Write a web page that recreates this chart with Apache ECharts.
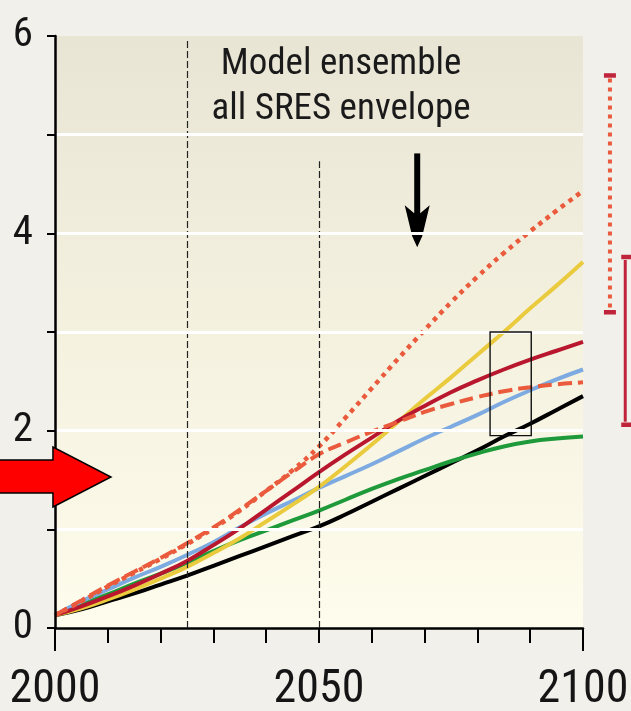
<!DOCTYPE html>
<html><head><meta charset="utf-8">
<script src="https://cdn.jsdelivr.net/npm/echarts@6/dist/echarts.min.js"></script>
<style>html,body{margin:0;padding:0;background:#F1F0EB;}#c{width:631px;height:711px;}</style>
</head><body><div id="c"></div>
<script>
// ---- data ----
const years = [2000,2005,2010,2015,2020,2025,2030,2035,2040,2045,2050,2055,2060,2065,2070,2075,2080,2085,2090,2095,2100];
const dottedRed = [0.13,0.27,0.42,0.56,0.70,0.85,1.01,1.19,1.39,1.60,1.84,2.13,2.43,2.73,3.02,3.30,3.56,3.80,4.02,4.23,4.43];
const dashedRed = [0.13,0.28,0.43,0.57,0.71,0.86,1.02,1.20,1.39,1.58,1.76,1.88,1.99,2.09,2.19,2.27,2.34,2.40,2.44,2.47,2.49];
const yellow    = [0.13,0.20,0.29,0.39,0.50,0.62,0.76,0.91,1.08,1.25,1.43,1.64,1.86,2.09,2.32,2.54,2.77,3.00,3.24,3.47,3.71];
const darkRed   = [0.13,0.22,0.32,0.43,0.55,0.68,0.84,1.01,1.20,1.39,1.58,1.76,1.93,2.10,2.25,2.39,2.51,2.62,2.72,2.81,2.90];
const blue      = [0.13,0.27,0.39,0.51,0.62,0.74,0.87,1.02,1.16,1.29,1.42,1.54,1.66,1.79,1.92,2.04,2.16,2.29,2.41,2.52,2.62];
const green     = [0.13,0.24,0.34,0.45,0.55,0.66,0.78,0.89,0.99,1.09,1.19,1.30,1.41,1.51,1.60,1.69,1.77,1.84,1.89,1.92,1.94];
const black     = [0.13,0.19,0.27,0.35,0.44,0.53,0.63,0.73,0.83,0.93,1.03,1.15,1.28,1.41,1.54,1.67,1.80,1.94,2.07,2.21,2.35];
const xTickLabels = ['2000','2050','2100'];
const yTickLabels = ['0','2','4','6'];
const annotationLines = ['Model ensemble','all SRES envelope'];
const verticalLineYears = [2025, 2050];
const verticalLineTops  = [5.96, 4.73];
const boxYears = [2082.4, 2090.2];
const boxValues = [1.95, 3.0];
const rangeYears = [2105.1, 2108.0];
const rangeLow  = [3.2, 2.06];
const rangeHigh = [5.6, 3.76];
const bigArrowTip = [2010.6, 1.53];
const downArrowTip = [2068.6, 3.86];
const downArrowTop = 4.81;

// ---- font choice: narrow face if installed, else Liberation Sans ----
function fontAvailable(f){
  const c = document.createElement('canvas').getContext('2d');
  const s = '2000 Model ensemble wmWMil';
  let r = false;
  ['monospace','serif'].forEach(base=>{
    c.font = '40px ' + base; const a = c.measureText(s).width;
    c.font = "40px '" + f + "', " + base; const b = c.measureText(s).width;
    if (Math.abs(a-b) > 0.5) r = true;
  });
  return r;
}
const narrowCands = ['Liberation Sans Narrow','Arial Narrow','Roboto Condensed','Open Sans Condensed','Nimbus Sans Narrow','Helvetica Condensed'];
let NARROW = narrowCands.find(fontAvailable);
const FONT = NARROW ? "'" + NARROW + "',sans-serif" : "'Liberation Sans',Arial,sans-serif";
const TEXT_SCALE = NARROW ? 1 : 0.83;
const XLAB_SIZE = NARROW ? 46 : 44;
const NOTE_SIZE = NARROW ? 37 : 38;

const ORANGE = '#EA5A3C', DARKRED = '#B8172E', CAPRED = '#C0243A';

const chart = echarts.init(document.getElementById('c'), null, {renderer:'canvas'});
const pair = arr => years.map((y,i)=>[y, arr[i]]);
const lineS = (name, data, color, extra) => Object.assign({
  name, type:'line', data: pair(data), showSymbol:false, smooth:0.45, z:2,
  lineStyle:{color, width:4, cap:'butt'}, silent:true
}, extra||{});

chart.setOption({
  animation:false,
  backgroundColor:'#F1F0EB',
  grid:{left:55, right:48, top:36, bottom:83, show:true, borderWidth:0, outerBoundsMode:'none', containLabel:false,
    backgroundColor: new echarts.graphic.LinearGradient(0,0,0,1,[
      {offset:0,color:'#E9E5D5'},{offset:0.5,color:'#F4F1DF'},{offset:1,color:'#FEFCEC'}])},
  xAxis:[{
    type:'value', min:2000, max:2100, interval:10, z:4,
    axisLine:{show:true, lineStyle:{color:'#000', width:2.5}},
    axisTick:{show:true, length:15, lineStyle:{color:'#000', width:2}},
    splitLine:{show:false},
    axisLabel:{margin:39, fontSize:XLAB_SIZE, fontFamily:FONT, color:'#151515', hideOverlap:false,
      formatter: v => xTickLabels.includes(String(v)) ? String(v) : '', showMinLabel:true, showMaxLabel:true}
  },{
    type:'value', min:2000, max:2100, interval:100, position:'bottom', z:4,
    axisLine:{show:false}, axisLabel:{show:false}, splitLine:{show:false},
    axisTick:{show:true, length:23, lineStyle:{color:'#000', width:2}}
  }],
  yAxis:{
    type:'value', min:0, max:6, interval:1, z:6,
    axisLine:{show:true, lineStyle:{color:'#000', width:2.5}},
    axisTick:{show:true, length:8, lineStyle:{color:'#000', width:2}},
    splitLine:{show:true, showMinLine:false, showMaxLine:false, lineStyle:{color:'#FFFFFF', width:3}},
    axisLabel:{margin:22, fontSize:41, fontFamily:FONT, color:'#151515',
      formatter: v => yTickLabels.includes(String(v)) ? String(v) : ''}
  },
  series:[
    lineS('black', black, '#000000', {
      markLine:{silent:true, symbol:'none', label:{show:false},
        lineStyle:{color:'#222', width:1.2, type:[7,3]},
        data: verticalLineYears.map((y,i)=>[{coord:[y,0]},{coord:[y,verticalLineTops[i]]}])}
    }),
    lineS('green', green, '#1E9A3B'),
    lineS('blue', blue, '#7DAAE0'),
    lineS('yellow', yellow, '#EACB3E'),
    lineS('darkred', darkRed, DARKRED),
    lineS('dashed', dashedRed, ORANGE, {lineStyle:{color:ORANGE, width:4, type:[14,6], cap:'butt'}}),
    lineS('dotted', dottedRed, ORANGE, {lineStyle:{color:ORANGE, width:4.5, type:[4.5,5], cap:'butt'}}),
    { // outlined box
      type:'custom', clip:false, silent:true, z:8,
      data:[[boxYears[0], boxValues[0], boxYears[1], boxValues[1]]],
      renderItem(params, api){
        const a = api.coord([api.value(0), api.value(3)]);
        const b = api.coord([api.value(2), api.value(1)]);
        return {type:'rect', shape:{x:a[0], y:a[1], width:b[0]-a[0], height:b[1]-a[1]},
          style:{fill:'none', stroke:'#111', lineWidth:1.4}};
      }
    },
    { // range bars at right
      type:'custom', clip:false, silent:true, z:5,
      data: rangeYears.map((y,i)=>[y, rangeLow[i], rangeHigh[i], i]),
      renderItem(params, api){
        const x = api.value(0), lo = api.value(1), hi = api.value(2), k = api.value(3);
        const pLo = api.coord([x, lo]), pHi = api.coord([x, hi]);
        const cw = k === 0 ? 12 : 18;
        const cx0 = k === 0 ? pLo[0]-6 : pLo[0]-4;
        return {type:'group', children:[
          {type:'line', shape:{x1:pLo[0], y1:pHi[1]+3, x2:pLo[0], y2:pLo[1]-3},
            style:{stroke: k===0 ? ORANGE : CAPRED, lineWidth: k===0 ? 4 : 3, lineDash: k===0 ? [4,5] : null}},
          {type:'line', shape:{x1:cx0, y1:pHi[1], x2:cx0+cw, y2:pHi[1]}, style:{stroke:CAPRED, lineWidth:4.5}},
          {type:'line', shape:{x1:cx0, y1:pLo[1], x2:cx0+cw, y2:pLo[1]}, style:{stroke:CAPRED, lineWidth:4.5}}
        ]};
      }
    }
  ]
});

const tip = chart.convertToPixel({xAxisIndex:0, yAxisIndex:0}, bigArrowTip);
const dTip = chart.convertToPixel({xAxisIndex:0, yAxisIndex:0}, downArrowTip);
const dTop = chart.convertToPixel({xAxisIndex:0, yAxisIndex:0}, [downArrowTip[0], downArrowTop]);
const rel = (p, pts) => pts.map(q => [p[0]+q[0], p[1]+q[1]]);

chart.setOption({
  graphic:[
    {type:'polygon', z:100, silent:true,
      shape:{points: rel(tip, [[-130,-17],[-58,-17],[-58,-30],[0,0],[-58,30],[-58,16],[-130,16]])},
      style:{fill:'#FF0000', stroke:'#000', lineWidth:1.5}},
    {type:'rect', z:1, silent:true,
      shape:{x:dTip[0]-3, y:dTop[1], width:6, height:(dTip[1]-dTop[1])-30}, style:{fill:'#000'}},
    {type:'polygon', z:1, silent:true,
      shape:{points: rel(dTip, [[0,0],[-5,-11],[-12.5,-42],[-3,-34],[3,-34],[12.5,-42],[5,-11]])},
      style:{fill:'#000'}},
    {type:'text', z:50, silent:true, x:341, y:42, scaleX:TEXT_SCALE, scaleY:1,
      style:{text: annotationLines.join('\n'), font:NOTE_SIZE + "px " + FONT, fill:'#1a1a1a',
        align:'center', verticalAlign:'top', lineHeight:45}}
  ]
});
</script></body></html>
